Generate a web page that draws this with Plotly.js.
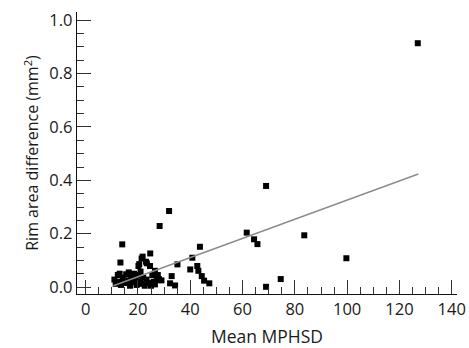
<!DOCTYPE html>
<html>
<head>
<meta charset="utf-8">
<script src="https://cdn.plot.ly/plotly-3.0.1.min.js"></script>
<style>html,body{margin:0;padding:0;background:#fff;}#chart{width:469px;height:348px;}</style>
</head>
<body>
<div id="chart"></div>
<script>
// Mean MPHSD (x) vs rim area difference in mm^2 (y)
const mphsd = [
  11.0, 11.5, 12.3, 12.8, 13.5, 14.2, 15.0, 15.5, 16.3, 17.0, 17.5, 18.3, 19.0, 19.5, 20.2, 20.8,
  21.5, 22.0, 22.6, 23.3, 24.0, 25.0, 25.5, 26.0, 26.5, 27.2, 28.0, 29.0, 13.0, 16.5, 21.0, 18.5,
  13.3, 14.0, 20.2, 20.5, 21.4, 21.8, 23.1, 23.4, 24.6, 24.7, 26.5, 27.6, 27.8, 28.3, 31.9, 32.3,
  32.9, 34.2, 35.1, 40.0, 40.8, 42.7, 43.1, 43.7, 44.4, 45.3, 47.3, 61.6, 64.4, 65.7, 69.0, 69.0,
  74.6, 83.6, 99.7, 127.0
];
const rimDiff = [
  0.028, 0.012, 0.045, 0.020, 0.008, 0.035, 0.015, 0.048, 0.025, 0.005, 0.038, 0.018, 0.030, 0.008, 0.045, 0.022,
  0.012, 0.035, 0.005, 0.028, 0.015, 0.005, 0.045, 0.020, 0.010, 0.035, 0.030, 0.025, 0.050, 0.055, 0.058, 0.050,
  0.092, 0.160, 0.079, 0.086, 0.107, 0.114, 0.095, 0.089, 0.079, 0.126, 0.061, 0.045, 0.026, 0.229, 0.285, 0.014,
  0.041, 0.006, 0.085, 0.066, 0.110, 0.079, 0.061, 0.151, 0.041, 0.024, 0.014, 0.204, 0.179, 0.161, 0.379, 0.001,
  0.030, 0.194, 0.108, 0.914
];
// regression line end points
const fitX = [10.6, 127.2];
const fitY = [0.005, 0.424];

const xTickVals = [0, 20, 40, 60, 80, 100, 120, 140];
const yTickVals = [0.0, 0.2, 0.4, 0.6, 0.8, 1.0];
const yTickText = ['0.0', '0.2', '0.4', '0.6', '0.8', '1.0'];

const FONT = '"Open Sans", Lato, sans-serif';
const TXT = '#1a1a1a';

const traces = [
  {
    x: mphsd, y: rimDiff, type: 'scatter', mode: 'markers',
    marker: {symbol: 'square', size: 6, color: '#000'}
  },
  {
    x: fitX, y: fitY, type: 'scatter', mode: 'lines',
    line: {color: '#8c8c8c', width: 1.5}, hoverinfo: 'skip'
  }
];

const layout = {
  width: 469, height: 348,
  margin: {l: 77, r: 12, t: 12, b: 54, pad: 0},
  paper_bgcolor: '#fff', plot_bgcolor: '#fff',
  showlegend: false,
  font: {family: FONT, size: 17, color: TXT},
  xaxis: {
    range: [-3.3, 142.0],
    tickmode: 'array', tickvals: xTickVals,
    ticks: 'inside', ticklen: 14, tickwidth: 1, tickcolor: '#333',
    minor: {dtick: 5, tick0: 0, ticks: 'inside', ticklen: 7, tickwidth: 1, tickcolor: '#333', showgrid: false},
    showgrid: false, zeroline: false,
    showline: true, linecolor: '#111', linewidth: 1.2,
    tickfont: {family: FONT, size: 16.5, color: TXT},
    title: {text: 'Mean MPHSD', font: {family: FONT, size: 17.5, color: TXT}, standoff: 11}
  },
  yaxis: {
    range: [-0.026, 1.031],
    tickmode: 'array', tickvals: yTickVals, ticktext: yTickText,
    ticks: 'inside', ticklen: 14, tickwidth: 1, tickcolor: '#333',
    minor: {dtick: 0.05, tick0: 0, ticks: 'inside', ticklen: 7, tickwidth: 1, tickcolor: '#333', showgrid: false},
    showgrid: false, zeroline: false,
    showline: true, linecolor: '#111', linewidth: 1.2,
    tickfont: {family: FONT, size: 16.5, color: TXT},
    title: {text: 'Rim area difference (mm<sup>2</sup>)', font: {family: FONT, size: 16, color: TXT}, standoff: 6}
  }
};

Plotly.newPlot('chart', traces, layout, {staticPlot: true, displayModeBar: false});
</script>
</body>
</html>
